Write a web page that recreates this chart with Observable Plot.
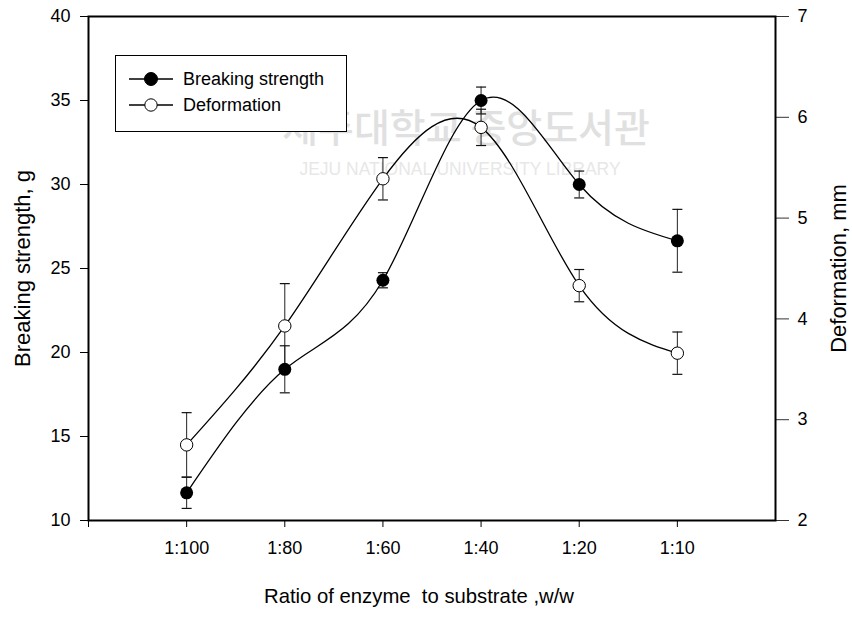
<!DOCTYPE html>
<html><head><meta charset="utf-8">
<script src="https://cdn.jsdelivr.net/npm/d3@7"></script>
<script src="https://cdn.jsdelivr.net/npm/@observablehq/plot@0.6"></script>
<style>
body{margin:0;background:#fff;}
#wrap{position:relative;width:852px;height:633px;}
</style></head>
<body><div id="wrap"></div>
<script>
// ---- data ----
const categories = ["1:100", "1:80", "1:60", "1:40", "1:20", "1:10"];
const strength = [11.65, 19.0, 24.3, 35.0, 30.0, 26.65];
const strengthErr = [0.93, 1.4, 0.45, 0.8, 0.8, 1.87];
const deformation = [2.75, 3.93, 5.39, 5.90, 4.33, 3.66];
const deformationErr = [0.32, 0.42, 0.21, 0.18, 0.16, 0.21];
const leftTicks = [10, 15, 20, 25, 30, 35, 40];
const rightTicks = [2, 3, 4, 5, 6, 7];
const seriesNames = ["Breaking strength", "Deformation"];
const xTitle = "Ratio of enzyme  to substrate ,w/w";
const yLeftTitle = "Breaking strength, g";
const yRightTitle = "Deformation, mm";

// right axis (2..7) mapped onto left scale (10..40)
const toLeft = v => 10 + (v - 2) * 6;
const fromLeft = v => Math.round(((v - 10) / 6 + 2) * 100) / 100;

const rows = categories.map((c, k) => ({
  i: k + 1, s: strength[k], se: strengthErr[k],
  d: toLeft(deformation[k]), de: deformationErr[k] * 6
}));
const capsS = rows.flatMap(r => [{i: r.i, y: r.s - r.se}, {i: r.i, y: r.s + r.se}]);
const capsD = rows.flatMap(r => [{i: r.i, y: r.d - r.de}, {i: r.i, y: r.d + r.de}]);
const capSymbol = {draw(ctx) { ctx.moveTo(-5, 0); ctx.lineTo(5, 0); }};

const FONT = "'Liberation Sans', Arial, Helvetica, sans-serif";

const chart = Plot.plot({
  width: 852, height: 633,
  marginLeft: 88, marginRight: 77, marginTop: 16, marginBottom: 113,
  style: {fontFamily: FONT, fontSize: "18px", color: "black", background: "white"},
  x: {domain: [0, 7], axis: null},
  y: {domain: [10, 40], axis: null},
  marks: [
    Plot.axisY(leftTicks, {anchor: "left", tickSize: 8, tickPadding: 10, fontSize: 18, label: null, stroke: "black"}),
    Plot.axisY(rightTicks.map(toLeft), {anchor: "right", tickSize: 13, tickPadding: 9, fontSize: 18, label: null,
      tickFormat: v => String(fromLeft(v)), stroke: "#333"}),
    Plot.axisX([0, 1, 2, 3, 4, 5, 6], {anchor: "bottom", tickSize: 7, tickPadding: 14, fontSize: 18, label: null,
      tickFormat: i => categories[i - 1] ?? "", stroke: "black"}),
    // deformation
    Plot.ruleX(rows, {x: "i", y1: d => d.d - d.de, y2: d => d.d + d.de, stroke: "#222", strokeWidth: 1}),
    Plot.dot(capsD, {x: "i", y: "y", symbol: capSymbol, stroke: "#111", fill: "none", strokeWidth: 1.2}),
    Plot.line(rows, {x: "i", y: "d", curve: "natural", stroke: "black", strokeWidth: 1.3}),
    Plot.dot(rows, {x: "i", y: "d", r: 6.2, fill: "white", stroke: "black", strokeWidth: 1}),
    // breaking strength
    Plot.ruleX(rows, {x: "i", y1: d => d.s - d.se, y2: d => d.s + d.se, stroke: "#222", strokeWidth: 1}),
    Plot.dot(capsS, {x: "i", y: "y", symbol: capSymbol, stroke: "#111", fill: "none", strokeWidth: 1.2}),
    Plot.line(rows, {x: "i", y: "s", curve: "natural", stroke: "black", strokeWidth: 1.3}),
    Plot.dot(rows, {x: "i", y: "s", r: 6.5, fill: "black"}),
    Plot.frame({stroke: "black", strokeWidth: 2}),
    Plot.text([yLeftTitle], {frameAnchor: "left", textAnchor: "middle", lineAnchor: "middle", dx: -66, rotate: -90, fontSize: 22, fill: "black"}),
    Plot.text([yRightTitle], {frameAnchor: "right", textAnchor: "middle", lineAnchor: "middle", dx: 63, rotate: -90, fontSize: 22, fill: "black"}),
    Plot.text([xTitle], {frameAnchor: "bottom", textAnchor: "middle", dx: -13, dy: 82, fontSize: 20.3, fill: "black"})
  ]
});
document.getElementById("wrap").appendChild(chart);

const svg = d3.select(chart);
// faint watermark behind everything
const wm = svg.insert("g", ":first-child").attr("opacity", 0.55).attr("pointer-events", "none");
wm.append("text").attr("x", 466).attr("y", 142).attr("text-anchor", "middle")
  .attr("font-family", "'Noto Sans CJK KR', sans-serif").attr("font-size", 39).attr("font-weight", 500)
  .attr("fill", "#c8c8c8").text("제주대학교 중앙도서관");
wm.append("text").attr("x", 460).attr("y", 175).attr("text-anchor", "middle")
  .attr("font-family", FONT).attr("font-size", 17.5).attr("fill", "#d4d4d4")
  .text("JEJU NATIONAL UNIVERSITY LIBRARY");

// legend
const lg = svg.append("g");
lg.append("rect").attr("x", 115.5).attr("y", 55.5).attr("width", 231).attr("height", 76)
  .attr("fill", "white").attr("stroke", "black").attr("stroke-width", 1);
const rowsY = [79, 105];
seriesNames.forEach((name, k) => {
  const y = rowsY[k];
  lg.append("line").attr("x1", 129).attr("x2", 173).attr("y1", y).attr("y2", y).attr("stroke", "black").attr("stroke-width", 1.3);
  lg.append("circle").attr("cx", 151).attr("cy", y).attr("r", k === 0 ? 6.5 : 6.2)
    .attr("fill", k === 0 ? "black" : "white").attr("stroke", "black").attr("stroke-width", 1);
  lg.append("text").attr("x", 183).attr("y", y).attr("dy", "0.35em").attr("text-anchor", "start")
    .attr("font-family", FONT).attr("font-size", 18).attr("fill", "black").text(name);
});
</script>
</body></html>
